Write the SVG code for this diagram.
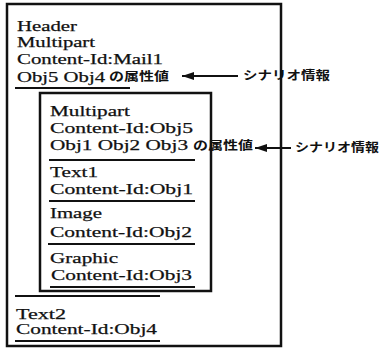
<svg xmlns="http://www.w3.org/2000/svg" width="381" height="350" viewBox="0 0 381 350">
<style>
.t{font-family:"Liberation Serif","Times New Roman",serif;font-size:15px;fill:#111;stroke:#111;stroke-width:0.25}
.j{font-family:"Noto Sans CJK JP","Noto Sans",sans-serif;font-weight:bold;fill:#111}
.box{fill:none;stroke:#111;stroke-width:2.5}
.ul{stroke:#111;stroke-width:2}
.ar{stroke:#111;stroke-width:2;fill:none}
</style>
<defs>
<marker id="ah" viewBox="0 0 12 8" refX="12" refY="4" markerWidth="12" markerHeight="8" markerUnits="userSpaceOnUse" orient="auto">
<path d="M0,0 L12,4 L0,8 Z" fill="#111"/>
</marker>
</defs>
<g id="outer">
<rect class="box" x="7" y="4" width="274" height="342"/>
<text class="t" x="17" y="31" textLength="60" lengthAdjust="spacingAndGlyphs">Header</text>
<text class="t" x="17" y="47" textLength="78" lengthAdjust="spacingAndGlyphs">Multipart</text>
<text class="t" x="17" y="64" textLength="146" lengthAdjust="spacingAndGlyphs">Content-Id:Mail1</text>
<text class="t" x="17" y="82" textLength="88" lengthAdjust="spacingAndGlyphs">Obj5 Obj4</text>
<text class="j" x="109" y="81" font-size="12" textLength="60" lengthAdjust="spacingAndGlyphs">の属性値</text>
<line class="ul" x1="15" y1="88" x2="130" y2="88"/>
<line class="ul" x1="15" y1="296" x2="160" y2="296"/>
<text class="t" x="16" y="319" textLength="50" lengthAdjust="spacingAndGlyphs">Text2</text>
<text class="t" x="16" y="334" textLength="141" lengthAdjust="spacingAndGlyphs">Content-Id:Obj4</text>
<line class="ul" x1="15" y1="341" x2="160" y2="341"/>
</g>
<g id="inner">
<rect class="box" x="40" y="93" width="171" height="198"/>
<text class="t" x="50" y="116" textLength="80" lengthAdjust="spacingAndGlyphs">Multipart</text>
<text class="t" x="50" y="133" textLength="143" lengthAdjust="spacingAndGlyphs">Content-Id:Obj5</text>
<text class="t" x="50" y="150" textLength="138" lengthAdjust="spacingAndGlyphs">Obj1 Obj2 Obj3</text>
<text class="j" x="193" y="150" font-size="12" textLength="60" lengthAdjust="spacingAndGlyphs">の属性値</text>
<line class="ul" x1="49" y1="160" x2="195" y2="160"/>
<text class="t" x="50" y="177" textLength="48" lengthAdjust="spacingAndGlyphs">Text1</text>
<text class="t" x="50" y="194" textLength="143" lengthAdjust="spacingAndGlyphs">Content-Id:Obj1</text>
<line class="ul" x1="49" y1="201" x2="195" y2="201"/>
<text class="t" x="50" y="218" textLength="52" lengthAdjust="spacingAndGlyphs">Image</text>
<text class="t" x="50" y="237" textLength="142" lengthAdjust="spacingAndGlyphs">Content-Id:Obj2</text>
<line class="ul" x1="48" y1="244" x2="195" y2="244"/>
<text class="t" x="50" y="263" textLength="68" lengthAdjust="spacingAndGlyphs">Graphic</text>
<text class="t" x="51" y="280" textLength="141" lengthAdjust="spacingAndGlyphs">Content-Id:Obj3</text>
<line class="ul" x1="50" y1="287" x2="195" y2="287"/>
</g>
<g id="scenario1">
<text class="j" x="243" y="80" font-size="12" textLength="87" lengthAdjust="spacingAndGlyphs">シナリオ情報</text>
</g>
<g id="scenario2">
<text class="j" x="295" y="152" font-size="12" textLength="84" lengthAdjust="spacingAndGlyphs">シナリオ情報</text>
</g>
<g id="connectors">
<line class="ar" x1="238" y1="76" x2="182" y2="76" marker-end="url(#ah)"/>
<line class="ar" x1="291" y1="148" x2="255" y2="148" marker-end="url(#ah)"/>
</g>
</svg>
